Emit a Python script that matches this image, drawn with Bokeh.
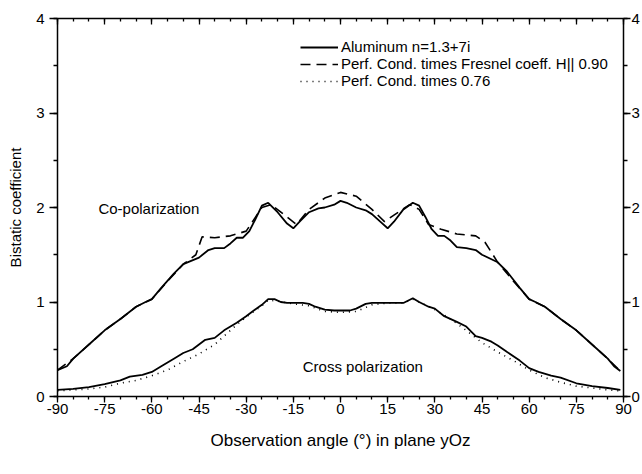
from bokeh.plotting import figure
from bokeh.models import (Range1d, LinearAxis, SingleIntervalTicker, Legend, LegendItem, Label,
                          PrintfTickFormatter, CustomJSTickFormatter)
from bokeh.embed import file_html
from bokeh.resources import INLINE

# ---------------- data ----------------
co_angle = [-90, -87, -85, -80, -75, -70, -65, -62, -60, -57, -53, -50, -45, -42, -40, -37, -35,
            -33, -31, -29, -27, -25, -23, -20, -17, -15, -13, -10, -7, -5, -2, 0, 2, 5, 8, 10,
            13, 15, 17, 20, 23, 25, 27, 29, 31, 33, 35, 37, 40, 43, 45, 50, 53, 57, 60, 62, 65,
            70, 75, 80, 85, 87, 89]
co_aluminum = [0.28, 0.32, 0.40, 0.55, 0.70, 0.82, 0.95, 1.00, 1.03, 1.15, 1.30, 1.40, 1.47, 1.55,
               1.57, 1.57, 1.62, 1.68, 1.68, 1.75, 1.88, 2.02, 2.05, 1.95, 1.83, 1.78, 1.85, 1.95,
               1.99, 2.00, 2.03, 2.07, 2.05, 2.00, 1.97, 1.93, 1.84, 1.78, 1.85, 1.98, 2.05, 2.02,
               1.90, 1.77, 1.70, 1.70, 1.65, 1.58, 1.57, 1.55, 1.50, 1.42, 1.32, 1.15, 1.03, 1.00,
               0.95, 0.82, 0.70, 0.55, 0.40, 0.32, 0.27]

fr_angle = [-90, -85, -80, -75, -70, -65, -60, -55, -50, -46, -44, -40, -35, -30, -25, -22, -17,
            -14, -10, -5, 0, 5, 10, 14, 17, 22, 25, 28, 32, 37, 43, 46, 50, 55, 60, 65, 70, 75,
            80, 85, 89]
co_fresnel = [0.28, 0.40, 0.55, 0.70, 0.82, 0.95, 1.03, 1.22, 1.40, 1.50, 1.69, 1.68, 1.70, 1.75,
              2.00, 2.03, 1.90, 1.82, 1.98, 2.10, 2.16, 2.12, 1.98, 1.85, 1.92, 2.03, 1.98, 1.82,
              1.77, 1.72, 1.70, 1.63, 1.42, 1.22, 1.03, 0.95, 0.82, 0.70, 0.55, 0.40, 0.27]

cr_angle = [-90, -85, -80, -75, -70, -67, -63, -60, -57, -53, -50, -47, -45, -43, -40, -37, -33,
            -30, -28, -25, -23, -21, -19, -17, -15, -12, -10, -8, -5, -2, 0, 3, 5, 8, 10, 15, 20,
            23, 25, 28, 30, 33, 37, 40, 43, 45, 48, 50, 53, 57, 60, 63, 67, 70, 75, 80, 85, 89]
cr_aluminum = [0.07, 0.08, 0.10, 0.13, 0.17, 0.21, 0.23, 0.26, 0.32, 0.40, 0.46, 0.50, 0.55, 0.60,
               0.62, 0.70, 0.78, 0.85, 0.90, 0.97, 1.03, 1.03, 1.00, 0.99, 0.99, 0.99, 0.98, 0.95,
               0.92, 0.91, 0.91, 0.91, 0.93, 0.98, 0.99, 0.99, 0.99, 1.04, 1.00, 0.95, 0.93, 0.85,
               0.79, 0.74, 0.64, 0.62, 0.58, 0.54, 0.47, 0.38, 0.30, 0.26, 0.22, 0.20, 0.14, 0.11,
               0.09, 0.07]

pc_angle = [-90, -80, -75, -70, -65, -60, -55, -50, -45, -40, -37, -33, -30, -25, -23, -20, -15,
            -10, -5, 0, 5, 10, 15, 20, 23, 25, 30, 35, 40, 43, 45, 50, 55, 60, 65, 70, 75, 80,
            85, 89]
cr_perfect = [0.06, 0.08, 0.10, 0.14, 0.17, 0.22, 0.28, 0.37, 0.45, 0.55, 0.64, 0.76, 0.84, 0.96,
              1.02, 1.01, 0.98, 0.96, 0.90, 0.89, 0.90, 0.97, 0.99, 0.99, 1.03, 1.00, 0.92, 0.82,
              0.70, 0.62, 0.57, 0.47, 0.38, 0.28, 0.20, 0.15, 0.11, 0.09, 0.07, 0.06]

legend_labels = ["Aluminum n=1.3+7i",
                 "Perf. Cond. times Fresnel coeff. H|| 0.90",
                 "Perf. Cond. times 0.76"]

FONT = "Liberation Sans"

p = figure(width=642, height=458, output_backend="svg", toolbar_location=None,
           x_range=Range1d(-90, 90), y_range=Range1d(0, 4),
           min_border_left=57, min_border_top=18, min_border_bottom=62, min_border_right=18)
p.grid.visible = False
p.outline_line_color = None
p.background_fill_color = "white"

def style_axis(ax):
    ax.axis_line_color = "black"
    ax.axis_line_width = 1.5
    ax.major_tick_line_color = "black"
    ax.minor_tick_line_color = "black"
    ax.major_tick_line_width = 1.3
    ax.minor_tick_line_width = 1.3
    ax.major_label_text_font = FONT
    ax.major_label_text_font_size = "15px"
    ax.major_label_text_color = "black"
    ax.axis_label_text_font = FONT
    ax.axis_label_text_font_style = "normal"
    ax.axis_label_text_color = "black"
    ax.formatter = PrintfTickFormatter(format="%d")

xb = p.xaxis[0]
xb.ticker = SingleIntervalTicker(interval=15, num_minor_ticks=3)
style_axis(xb)
xb.axis_label = "Observation angle (\u00b0) in plane yOz"
xb.axis_label_text_font_size = "17px"
xb.axis_label_standoff = 14
xb.major_tick_out = 6
xb.major_tick_in = 0
xb.minor_tick_out = 3
xb.major_label_standoff = 1

yl = p.yaxis[0]
yl.ticker = SingleIntervalTicker(interval=1, num_minor_ticks=2)
style_axis(yl)
yl.axis_label = "Bistatic coefficient"
yl.axis_label_text_font_size = "15px"
yl.axis_label_standoff = 9
yl.major_tick_out = 8
yl.major_tick_in = 0
yl.minor_tick_out = 4
yl.major_label_standoff = 5

xtop = LinearAxis(ticker=SingleIntervalTicker(interval=15, num_minor_ticks=3))
style_axis(xtop)
xtop.formatter = CustomJSTickFormatter(code="return '';")
xtop.major_tick_in = 6
xtop.major_tick_out = 0
xtop.minor_tick_in = 3
xtop.minor_tick_out = 0
xtop.major_label_standoff = 0
p.add_layout(xtop, "above")

yr = LinearAxis(ticker=SingleIntervalTicker(interval=1, num_minor_ticks=2))
style_axis(yr)
yr.major_tick_out = 7
yr.major_tick_in = 0
yr.minor_tick_out = 4
yr.major_label_standoff = 1
p.add_layout(yr, "right")

r1 = p.line(co_angle, co_aluminum, line_color="black", line_width=1.8)
r2 = p.line(fr_angle, co_fresnel, line_color="black", line_width=1.6, line_dash="10 6")
p.line(cr_angle, cr_aluminum, line_color="black", line_width=1.8)
r3 = p.line(pc_angle, cr_perfect, line_color="black", line_width=1.6, line_dash="1 5")

legend = Legend(items=[LegendItem(label=legend_labels[0], renderers=[r1]),
                       LegendItem(label=legend_labels[1], renderers=[r2]),
                       LegendItem(label=legend_labels[2], renderers=[r3])],
                location=(243, 307), border_line_color=None, background_fill_alpha=0,
                label_text_font=FONT, label_text_font_size="15px", label_text_color="black",
                glyph_width=38, glyph_height=14, label_height=15, spacing=0, padding=6,
                margin=0, label_standoff=3)
p.add_layout(legend)

p.add_layout(Label(x=-77, y=1.99, text="Co-polarization", text_font=FONT,
                   text_font_size="15px", text_baseline="middle", text_color="black"))
p.add_layout(Label(x=-12, y=0.32, text="Cross polarization", text_font=FONT,
                   text_font_size="15px", text_baseline="middle", text_color="black"))

open("out.html", "w").write(file_html(p, INLINE))
